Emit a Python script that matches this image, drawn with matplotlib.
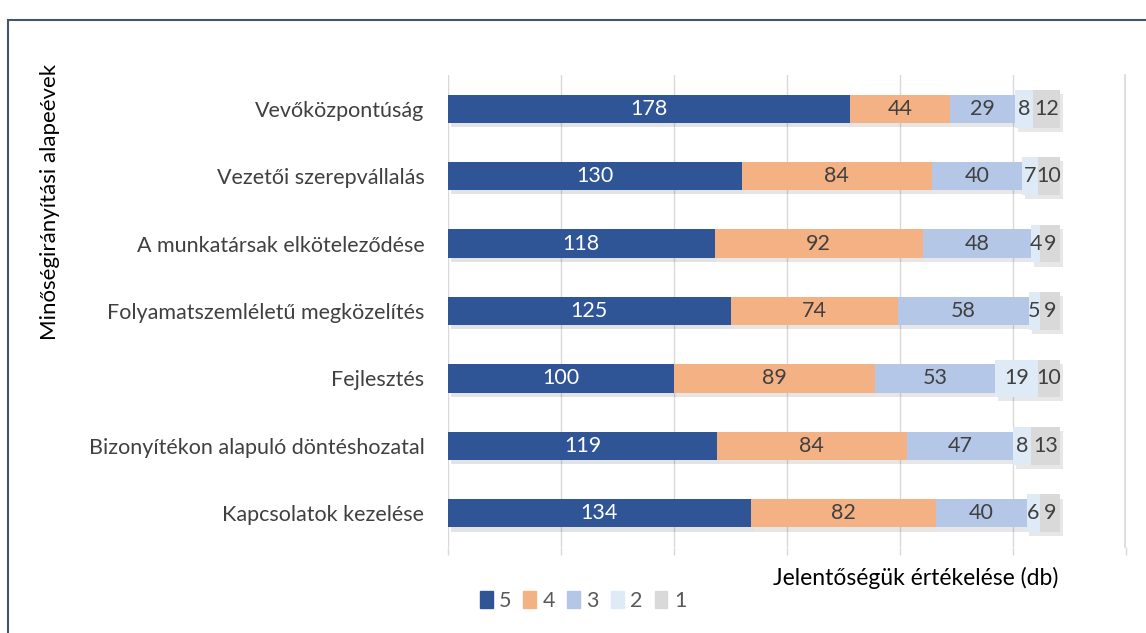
import matplotlib.pyplot as plt
import matplotlib.patheffects as pe
from matplotlib.patches import Rectangle
import numpy as np

categories = ['Vevőközpontúság', 'Vezetői szerepvállalás', 'A munkatársak elköteleződése',
              'Folyamatszemléletű megközelítés', 'Fejlesztés',
              'Bizonyítékon alapuló döntéshozatal', 'Kapcsolatok kezelése']
score5 = [178, 130, 118, 125, 100, 119, 134]
score4 = [44, 84, 92, 74, 89, 84, 82]
score3 = [29, 40, 48, 58, 53, 47, 40]
score2 = [8, 7, 4, 5, 19, 8, 6]
score1 = [12, 10, 9, 9, 10, 13, 9]
series = [('5', score5), ('4', score4), ('3', score3), ('2', score2), ('1', score1)]
colors = ['#2F5597', '#F4B183', '#B4C7E7', '#DEEBF7', '#D9D9D9']
heights = [0.42, 0.42, 0.42, 0.56, 0.56]
txtcol = ['white', '#404040', '#404040', '#404040', '#404040']

plt.rcParams['font.family'] = ['Lato', 'DejaVu Sans']

fig = plt.figure(figsize=(11.46, 6.33), dpi=100)
ax = fig.add_axes([448/1146, 1-547/633, (1126-448)/1146, (547-75)/633])

# frame around the chart
fig.patches.append(Rectangle((8/1146, -0.1), 1.2, 1-20/633+0.1, transform=fig.transFigure,
                             fill=False, edgecolor='#44546A', linewidth=1.5))

y = np.arange(len(categories))
left = np.zeros(len(categories))
shadow = [pe.SimplePatchShadow(offset=(2, -3), alpha=0.12), pe.Normal()]
handles = []
for i, (name, vals) in enumerate(series):
    bars = ax.barh(y, vals, left=left, height=heights[i], color=colors[i],
                   zorder=3, path_effects=shadow)
    handles.append(Rectangle((0, 0), 1, 1, color=colors[i]))
    for b, v, l in zip(bars, vals, left):
        ax.text(l + v/2, b.get_y() + b.get_height()/2, str(v), ha='center', va='center',
                color=txtcol[i], fontsize=15.5, zorder=4)
    left = left + np.array(vals)

ax.set_xlim(0, 300)
ax.set_ylim(len(categories) - 0.5, -0.5)
ax.set_xticks(range(0, 301, 50))
ax.set_xticklabels([])
ax.set_yticks(y)
ax.set_yticklabels(categories, fontsize=15.5, color='#404040')
ax.tick_params(axis='y', length=0, pad=17)
ax.tick_params(axis='x', length=6, color='#D9D9D9', width=1)
ax.grid(axis='x', color='#D9D9D9', linewidth=1, zorder=0)
ax.axvline(299.7, color='#D9D9D9', linewidth=1.2, zorder=0, clip_on=False)
for s in ax.spines.values():
    s.set_visible(False)

fig.text(50/1146, 1-202/633, 'Minőségirányítási alapeévek', rotation=90, ha='center',
         va='center', fontsize=16, color='black')
fig.text(1058/1146, 1-578/633, 'Jelentőségük értékelése (db)', ha='right', va='center',
         fontsize=16.5, color='black')

leg = fig.legend(handles, [s[0] for s in series], loc='center left',
                 bbox_to_anchor=(469/1146, 1-601/633), ncol=5,
                 frameon=False, fontsize=15.5, handlelength=0.6, handleheight=0.8,
                 handletextpad=0.3, columnspacing=0.55, borderpad=0)
for t in leg.get_texts():
    t.set_color('#595959')

fig.savefig('out.png', dpi=100)
